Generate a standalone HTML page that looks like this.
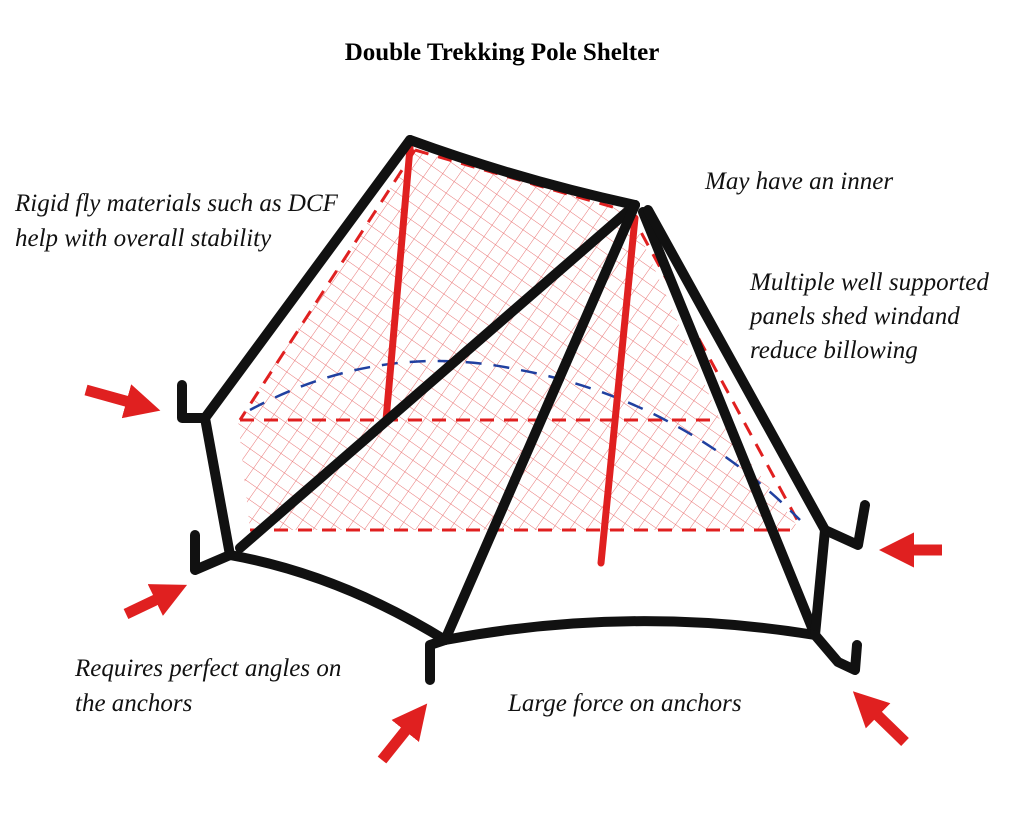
<!DOCTYPE html>
<html><head><meta charset="utf-8"><style>
html,body{margin:0;padding:0;background:#fff;}
svg{display:block;}
text{font-family:"Liberation Serif",serif;}
.l{font-style:italic;font-size:25px;fill:#111;}
</style></head><body>
<svg width="1024" height="825" viewBox="0 0 1024 825" xmlns="http://www.w3.org/2000/svg">
<defs>
<pattern id="h" width="14" height="14" patternUnits="userSpaceOnUse" patternTransform="rotate(35)">
<path d="M0 0H14M0 0V14" stroke="#e24545" stroke-width="1" opacity="0.75"/>
</pattern>
<marker id="ar" viewBox="0 0 10 10" refX="4" refY="5" markerWidth="3.2" markerHeight="3.2" orient="auto">
<path d="M0 0L10 5L0 10z" fill="#e02020"/></marker>
</defs>
<rect width="1024" height="825" fill="#fff"/>
<text x="502" y="60" text-anchor="middle" font-weight="bold" font-size="25">Double Trekking Pole Shelter</text>
<text class="l" x="15" y="211">Rigid fly materials such as DCF</text>
<text class="l" x="15" y="246">help with overall stability</text>
<text class="l" x="705" y="189">May have an inner</text>
<text class="l" x="750" y="290">Multiple well supported</text>
<text class="l" x="750" y="324">panels shed windand</text>
<text class="l" x="750" y="358">reduce billowing</text>
<text class="l" x="75" y="676">Requires perfect angles on</text>
<text class="l" x="75" y="711">the anchors</text>
<text class="l" x="508" y="711">Large force on anchors</text>

<path d="M415 150 L630 212 L720 420 L800 530 L250 530 L238 420 Z" fill="url(#h)"/>
<g stroke="#e02020" stroke-width="3" stroke-dasharray="14 10" fill="none">
<path d="M240 420 L720 420"/>
<path d="M250 530 L790 530"/>
<path d="M415 150 L240 420"/>
<path d="M630 212 L800 525"/>
<path d="M415 150 L630 212"/>
</g>
<path d="M250 410 Q380 340 520 370 Q680 400 800 520" stroke="#2040a0" stroke-width="2.5" stroke-dasharray="16 12" fill="none"/>
<g stroke="#e02020" stroke-width="7" stroke-linecap="round">
<line x1="410" y1="148" x2="386" y2="420"/>
<line x1="635" y1="218" x2="601" y2="563"/>
</g>
<g stroke="#111" stroke-width="10" fill="none" stroke-linecap="round" stroke-linejoin="round">
<path d="M410 140 Q520 180 635 205"/>
<path d="M410 140 L205 418 L230 555"/>
<path d="M230 555 Q340 575 445 640 Q630 605 815 635"/>
<path d="M635 205 L240 548"/>
<path d="M635 205 L445 640"/>
<path d="M643 212 L815 635"/>
<path d="M648 210 L825 530 L815 635"/>
<path d="M205 418 L182 418 L182 385"/>
<path d="M230 555 L195 570 L195 535"/>
<path d="M445 640 L430 645 L430 680"/>
<path d="M825 530 L858 545 L865 505"/>
<path d="M815 635 L838 662 L855 670 L857 645"/>
</g>
<g stroke="#e02020" stroke-width="11" marker-end="url(#ar)">
<line x1="86" y1="390" x2="140" y2="405"/>
<line x1="126" y1="614" x2="168" y2="594"/>
<line x1="382" y1="760" x2="414" y2="720"/>
<line x1="942" y1="550" x2="900" y2="550"/>
<line x1="905" y1="742" x2="868" y2="706"/>
</g>
</svg>
</body></html>
